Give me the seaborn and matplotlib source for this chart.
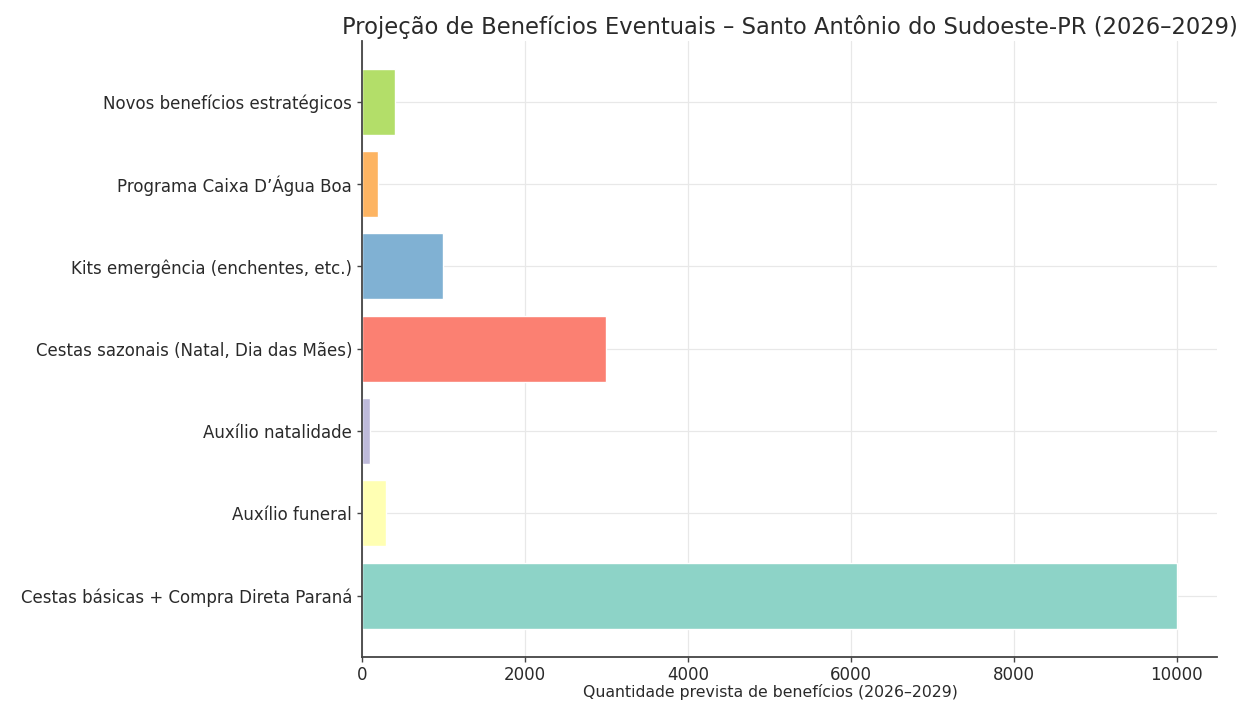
import matplotlib

matplotlib.use("Agg")
import matplotlib.pyplot as plt
import pandas as pd
import seaborn as sns

# Data (top to bottom as shown in the chart).
categories = [
    "Novos benefícios estratégicos",
    "Programa Caixa D’Água Boa",
    "Kits emergência (enchentes, etc.)",
    "Cestas sazonais (Natal, Dia das Mães)",
    "Auxílio natalidade",
    "Auxílio funeral",
    "Cestas básicas + Compra Direta Paraná",
]
quantities = [400, 200, 1000, 3000, 100, 300, 10000]
colors = ["#b3de69", "#fdb462", "#80b1d3", "#fb8072", "#bebada", "#ffffb3", "#8dd3c7"]

df = pd.DataFrame({"Benefício": categories, "Quantidade": quantities})

sns.set_style("whitegrid")
plt.rcParams["font.family"] = ["DejaVu Sans"]

fig, ax = plt.subplots(figsize=(12.46, 7.03), dpi=100)
sns.barplot(
    data=df,
    x="Quantidade",
    y="Benefício",
    hue="Benefício",
    palette=colors,
    legend=False,
    width=0.8,
    saturation=1,
    ax=ax,
)
sns.despine(ax=ax)

ax.set_ylim(6.74, -0.74)
ax.set_xlim(0, 10500)
ax.grid(True, color="#e8e8e8", linewidth=0.9)
ax.set_axisbelow(True)
for side in ["left", "bottom"]:
    ax.spines[side].set_color("#444444")
    ax.spines[side].set_linewidth(1.3)
ax.tick_params(axis="both", which="both", length=3.5, width=1.0, color="#444444",
               left=True, bottom=True, labelsize=12, labelcolor="#2a2a2a")

ax.set_title(
    "Projeção de Benefícios Eventuais – Santo Antônio do Sudoeste-PR (2026–2029)",
    fontsize=16.3,
    color="#2a2a2a",
    pad=5,
)
ax.set_xlabel("Quantidade prevista de benefícios (2026–2029)", fontsize=11.3,
              color="#2a2a2a", labelpad=2)
ax.xaxis.set_label_coords(0.477, -0.045)
ax.set_ylabel("")

fig.subplots_adjust(left=0.2905, right=0.977, top=0.942, bottom=0.066)
fig.savefig("out.png", dpi=100)
plt.close()
